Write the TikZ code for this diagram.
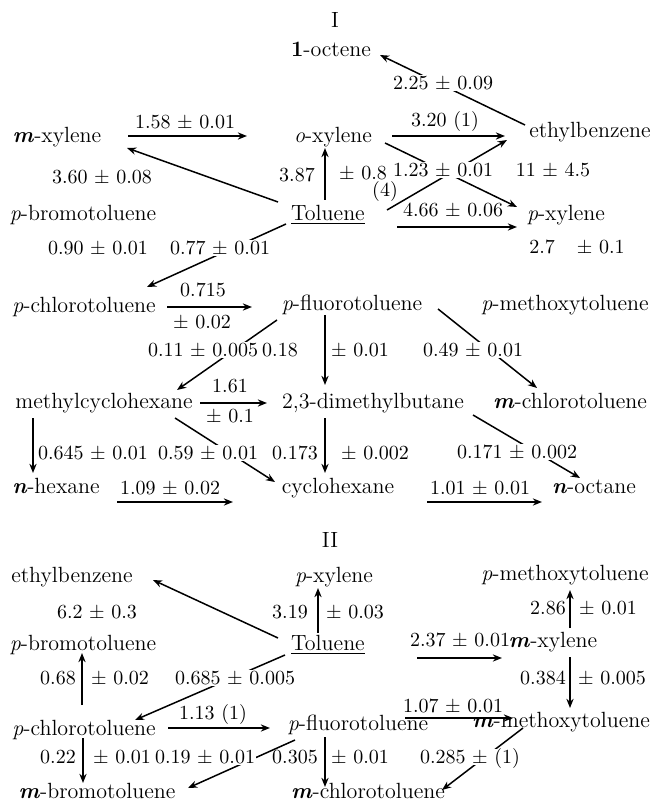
\documentclass[tikz,border=0pt]{standalone}
\usetikzlibrary{arrows.meta}
\newcommand{\pp}{\textit{p}-}
\newcommand{\mmp}{\textbf{\textit{m}}-}
\newcommand{\oop}{\textit{o}-}
\newcommand{\nnp}{\textbf{\textit{n}}-}
\tikzset{
  chem/.style={font=\fontsize{11}{13}\selectfont, inner sep=1pt, text height=7.5pt, text depth=2.2pt},
  num/.style={font=\fontsize{10}{12}\selectfont, inner sep=0.6pt, text height=6.8pt, text depth=0.4pt},
  gap/.style={num, fill=white},
  arr/.style={-{Stealth[length=4.6pt,width=3.6pt]}, line width=0.75pt}
}
\begin{document}
\begin{tikzpicture}[x=0.5pt,y=-0.5pt]
\useasboundingbox (0,0) rectangle (657,806);
% ---------------- Diagram I ----------------
\node[chem] (tI) at (335,22) {I};
\node[chem] (octene) at (331,51) {\textbf{1}-octene};
\node[chem] (ethbI) at (590,132) {ethylbenzene};
\node[chem] (mxylI) at (57,137) {\mmp xylene};
\node[chem] (oxylI) at (333,137) {\oop xylene};
\node[chem] (tolI) at (328,215) {\underline{Toluene}};
\node[chem] (pbromI) at (83,215) {\pp bromotoluene};
\node[chem] (pxylI) at (566,215) {\pp xylene};
\node[chem] (pchlI) at (84,307) {\pp chlorotoluene};
\node[chem] (pfluI) at (352,305) {\pp fluorotoluene};
\node[chem] (pmethI) at (565,305) {\pp methoxytoluene};
\node[chem] (mch) at (104,403) {methylcyclohexane};
\node[chem] (dmb) at (373,403) {2,3-dimethylbutane};
\node[chem] (mchlI) at (570,403) {\mmp chlorotoluene};
\node[chem] (nhex) at (56,488) {\nnp hexane};
\node[chem] (chex) at (338,488) {cyclohexane};
\node[chem] (noct) at (594,488) {\nnp octane};

\draw[arr] ([shift={(-65,-7)}]ethbI.center) -- ([shift={(49,4)}]octene.center);
\draw[arr] ([shift={(71,-1)}]mxylI.center) -- ([shift={(-86,-1)}]oxylI.center);
\draw[arr] ([shift={(59,-1)}]oxylI.center) -- ([shift={(-85,4)}]ethbI.center);
\draw[arr] ([shift={(-50,-13)}]tolI.center) -- ([shift={(70,11)}]mxylI.center);
\draw[arr] ([shift={(-3,-15)}]tolI.center) -- ([shift={(-8,11)}]oxylI.center);
\draw[arr] ([shift={(52,6)}]oxylI.center) -- ([shift={(-49,-8)}]pxylI.center);
\draw[arr] ([shift={(59,-5)}]tolI.center) -- ([shift={(-83,8)}]ethbI.center);
\draw[arr] ([shift={(69,12)}]tolI.center) -- ([shift={(-49,12)}]pxylI.center);
\draw[arr] ([shift={(-42,9)}]tolI.center) -- ([shift={(63,-20)}]pchlI.center);
\draw[arr] ([shift={(83,0)}]pchlI.center) -- ([shift={(-100,2)}]pfluI.center);
\draw[arr] ([shift={(-75,15)}]pfluI.center) -- ([shift={(73,-13)}]mch.center);
\draw[arr] ([shift={(-27,10)}]pfluI.center) -- ([shift={(-48,-18)}]dmb.center);
\draw[arr] ([shift={(86,4)}]pfluI.center) -- ([shift={(-33,-15)}]mchlI.center);
\draw[arr] ([shift={(96,0)}]mch.center) -- ([shift={(-106,0)}]dmb.center);
\draw[arr] ([shift={(71,15)}]mch.center) -- ([shift={(-63,-6)}]chex.center);
\draw[arr] ([shift={(-71,15)}]mch.center) -- ([shift={(-23,-15)}]nhex.center);
\draw[arr] ([shift={(-48,15)}]dmb.center) -- ([shift={(-13,-15)}]chex.center);
\draw[arr] ([shift={(-97,12)}]mchlI.center) -- ([shift={(-14,-10)}]noct.center);
\draw[arr] ([shift={(61,14)}]nhex.center) -- ([shift={(-105,14)}]chex.center);
\draw[arr] ([shift={(89,14)}]chex.center) -- ([shift={(-52,14)}]noct.center);

\node[gap] (n1) at (443,83) {2.25 $\pm$ 0.09};
\node[num] (n2) at (185,122) {1.58 $\pm$ 0.01};
\node[num] (n3) at (445,120) {3.20 (1)};
\node[num] (n4) at (102,177) {3.60 $\pm$ 0.08};
\node[num] (n5) at (297,175) {3.87};
\node[num] (n6) at (363,173) {$\pm$ 0.8};
\node[num] (n7) at (385,190) {(4)};
\node[gap] (n8) at (443,170) {1.23 $\pm$ 0.01};
\node[num] (n9) at (553,170) {11 $\pm$ 4.5};
\node[num] (n10) at (453,210) {4.66 $\pm$ 0.06};
\node[num] (n11) at (577,247) {2.7\hspace{1.1em}$\pm$ 0.1};
\node[num] (n12) at (98,248) {0.90 $\pm$ 0.01};
\node[gap] (n13) at (220,248) {0.77 $\pm$ 0.01};
\node[num] (n14) at (203,290) {0.715};
\node[num] (n15) at (202,322) {$\pm$ 0.02};
\node[gap] (n16) at (203,350) {0.11 $\pm$ 0.005};
\node[num] (n17) at (280,350) {0.18};
\node[num] (n18) at (360,350) {$\pm$ 0.01};
\node[gap] (n19) at (473,350) {0.49 $\pm$ 0.01};
\node[num] (n20) at (230,386) {1.61};
\node[num] (n21) at (230,416) {$\pm$ 0.1};
\node[num] (n22) at (93,453) {0.645 $\pm$ 0.01};
\node[gap] (n23) at (208,453) {0.59 $\pm$ 0.01};
\node[num] (n24) at (295,453) {0.173};
\node[num] (n25) at (375,453) {$\pm$ 0.002};
\node[gap] (n26) at (517,452) {0.171 $\pm$ 0.002};
\node[num] (n27) at (170,488) {1.09 $\pm$ 0.02};
\node[num] (n28) at (480,488) {1.01 $\pm$ 0.01};

% ---------------- Diagram II ----------------
\node[chem] (tII) at (330,542) {II};
\node[chem] (ethbII) at (72,577) {ethylbenzene};
\node[chem] (pxylII) at (334,577) {\pp xylene};
\node[chem] (pmethII) at (565,575) {\pp methoxytoluene};
\node[chem] (tolII) at (328,645) {\underline{Toluene}};
\node[chem] (pbromII) at (83,645) {\pp bromotoluene};
\node[chem] (mxylII) at (553,642) {\mmp xylene};
\node[chem] (pchlII) at (84,730) {\pp chlorotoluene};
\node[chem] (pfluII) at (358,725) {\pp fluorotoluene};
\node[chem] (mmethII) at (561,722) {\mmp methoxytoluene};
\node[chem] (mbrom) at (97,793) {\mmp bromotoluene};
\node[chem] (mchlII) at (368,793) {\mmp chlorotoluene};

\draw[arr] ([shift={(-50,-7)}]tolII.center) -- ([shift={(81,3)}]ethbII.center);
\draw[arr] ([shift={(-10,-12)}]tolII.center) -- ([shift={(-16,11)}]pxylII.center);
\draw[arr] ([shift={(-43,10)}]tolII.center) -- ([shift={(51,-10)}]pchlII.center);
\draw[arr] ([shift={(-2,-25)}]pchlII.center) -- ([shift={(-1,8)}]pbromII.center);
\draw[arr] ([shift={(89,13)}]tolII.center) -- ([shift={(-51,16)}]mxylII.center);
\draw[arr] ([shift={(17,-14)}]mxylII.center) -- ([shift={(5,15)}]pmethII.center);
\draw[arr] ([shift={(17,15)}]mxylII.center) -- ([shift={(9,-14)}]mmethII.center);
\draw[arr] ([shift={(84,-2)}]pchlII.center) -- ([shift={(-88,3)}]pfluII.center);
\draw[arr] ([shift={(47,-7)}]pfluII.center) -- ([shift={(-48,-4)}]mmethII.center);
\draw[arr] ([shift={(-1,8)}]pchlII.center) -- ([shift={(-14,-10)}]mbrom.center);
\draw[arr] ([shift={(-63,15)}]pfluII.center) -- ([shift={(91,-5)}]mbrom.center);
\draw[arr] ([shift={(-33,12)}]pfluII.center) -- ([shift={(-43,-6)}]mchlII.center);
\draw[arr] ([shift={(-38,6)}]mmethII.center) -- ([shift={(74,-3)}]mchlII.center);

\node[num] (m1) at (97,612) {6.2 $\pm$ 0.3};
\node[num] (m2) at (290,612) {3.19};
\node[num] (m3) at (355,612) {$\pm$ 0.03};
\node[num] (m4) at (548,608) {2.86};
\node[num] (m5) at (608,608) {$\pm$ 0.01};
\node[num] (m6) at (460,640) {2.37 $\pm$ 0.01};
\node[num] (m7) at (58,678) {0.68};
\node[num] (m8) at (120,678) {$\pm$ 0.02};
\node[gap] (m9) at (235,678) {0.685 $\pm$ 0.005};
\node[num] (m10) at (543,678) {0.384};
\node[num] (m11) at (612,678) {$\pm$ 0.005};
\node[num] (m12) at (213,713) {1.13 (1)};
\node[num] (m13) at (453,706) {1.07 $\pm$ 0.01};
\node[num] (m14) at (58,757) {0.22};
\node[num] (m15) at (122,757) {$\pm$ 0.01};
\node[gap] (m16) at (205,757) {0.19 $\pm$ 0.01};
\node[num] (m17) at (295,757) {0.305};
\node[num] (m18) at (360,757) {$\pm$ 0.01};
\node[gap] (m19) at (470,757) {0.285 $\pm$ (1)};
\end{tikzpicture}
\end{document}
